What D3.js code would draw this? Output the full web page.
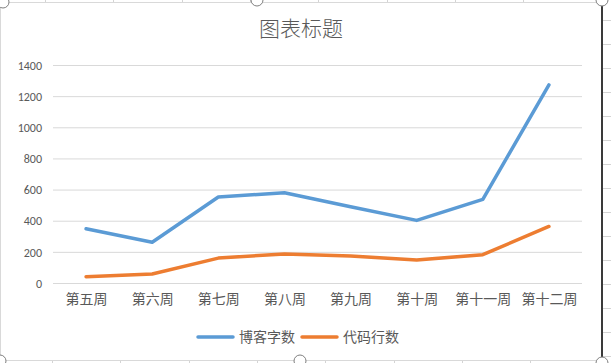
<!DOCTYPE html>
<html>
<head>
<meta charset="utf-8">
<script src="https://cdn.jsdelivr.net/npm/d3@7"></script>
<style>
  body { margin: 0; background: #fff; }
  svg { display: block; }
  text { font-family: "Noto Sans CJK SC", "Noto Sans", sans-serif; fill: #595959; }
</style>
</head>
<body>
<svg id="chart" width="611" height="363"></svg>
<script>
// chart values
const weeks = ["第五周", "第六周", "第七周", "第八周", "第九周", "第十周", "第十一周", "第十二周"];
const blogWords = [348, 262, 552, 580, 490, 402, 537, 1272];
const codeLines = [40, 58, 160, 187, 173, 148, 182, 363];
const seriesNames = ["博客字数", "代码行数"];
const seriesColors = ["#5B9BD5", "#ED7D31"];
const yTicks = [0, 200, 400, 600, 800, 1000, 1200, 1400];

const svg = d3.select("#chart");

// spreadsheet bits peeking out around the chart
const rows = d3.range(20, 363, 24);
svg.selectAll(".row").data(rows).join("line")
  .attr("x1", 603).attr("x2", 611)
  .attr("y1", d => d + 0.5).attr("y2", d => d + 0.5)
  .attr("stroke", "#d4d4d4");
const cols = [45, 113, 182, 250, 318, 387, 455, 523];
svg.selectAll(".col").data(cols).join("line")
  .attr("x1", d => d + 0.5).attr("x2", d => d + 0.5)
  .attr("y1", 0).attr("y2", 2)
  .attr("stroke", "#d4d4d4");
svg.selectAll(".colb").data(cols).join("line")
  .attr("x1", d => d + 7.5).attr("x2", d => d + 7.5)
  .attr("y1", 361).attr("y2", 363)
  .attr("stroke", "#d4d4d4");

// chart area
svg.append("rect")
  .attr("x", 0.5).attr("y", 2.5)
  .attr("width", 601).attr("height", 358)
  .attr("fill", "#fff").attr("stroke", "#d9d9d9");
svg.append("line")
  .attr("x1", 602).attr("x2", 602).attr("y1", 0).attr("y2", 363)
  .attr("stroke", "#3a3a3a").attr("stroke-width", 2);

// title
svg.append("text")
  .attr("x", 301).attr("y", 36)
  .attr("text-anchor", "middle")
  .style("font-size", "21px")
  .style("font-weight", "300")
  .attr("fill", "#6a6a6a")
  .text("图表标题");

const x = d3.scalePoint().domain(weeks).range([53, 582]).padding(0.5);
const y = d3.scaleLinear().domain([0, 1400]).range([283, 65]);

// gridlines
svg.append("g")
  .attr("transform", "translate(53,0)")
  .call(d3.axisLeft(y).tickValues(yTicks).tickSize(-529).tickFormat(""))
  .call(g => g.select(".domain").remove())
  .call(g => g.selectAll("line").attr("stroke", "#d9d9d9"));

// y labels
svg.append("g")
  .attr("transform", "translate(42,0)")
  .call(d3.axisLeft(y).tickValues(yTicks).tickSize(0).tickPadding(0).tickFormat(d3.format("d")))
  .call(g => g.select(".domain").remove())
  .call(g => g.selectAll("text").style("font-size", "12px").attr("dy", "0.35em")
    .style("font-family", "Calibri, Carlito, 'Liberation Sans', sans-serif").attr("fill", "#595959"));

// x labels
svg.append("g")
  .attr("transform", "translate(0,283)")
  .call(d3.axisBottom(x).tickSize(0).tickPadding(11))
  .call(g => g.select(".domain").remove())
  .call(g => g.selectAll("text").style("font-size", "14px").attr("fill", "#595959"));

// lines
const series = [blogWords, codeLines];
const line = d3.line()
  .x((d, i) => x(weeks[i]))
  .y(d => y(d));
svg.selectAll(".series").data(series).join("path")
  .attr("d", line)
  .attr("fill", "none")
  .attr("stroke", (d, i) => seriesColors[i])
  .attr("stroke-width", 3.5)
  .attr("stroke-linejoin", "round")
  .attr("stroke-linecap", "round");

// legend
const legendX = [198, 302];
const legend = svg.selectAll(".legend").data(seriesNames).join("g")
  .attr("transform", (d, i) => `translate(${legendX[i]},337)`);
legend.append("line")
  .attr("x1", 0).attr("x2", 35)
  .attr("stroke", (d, i) => seriesColors[i])
  .attr("stroke-width", 3.5)
  .attr("stroke-linecap", "round");
legend.append("text")
  .attr("x", 41).attr("dy", "0.36em")
  .style("font-size", "14px")
  .text(d => d);

// selection handles
const handles = [[3, 2], [257, 0], [602, 0], [0, 361], [300, 361], [602, 363]];
svg.selectAll(".handle").data(handles).join("circle")
  .attr("cx", d => d[0]).attr("cy", d => d[1])
  .attr("r", 6)
  .attr("fill", "#fff")
  .attr("stroke", "#7f7f7f");
</script>
</body>
</html>
